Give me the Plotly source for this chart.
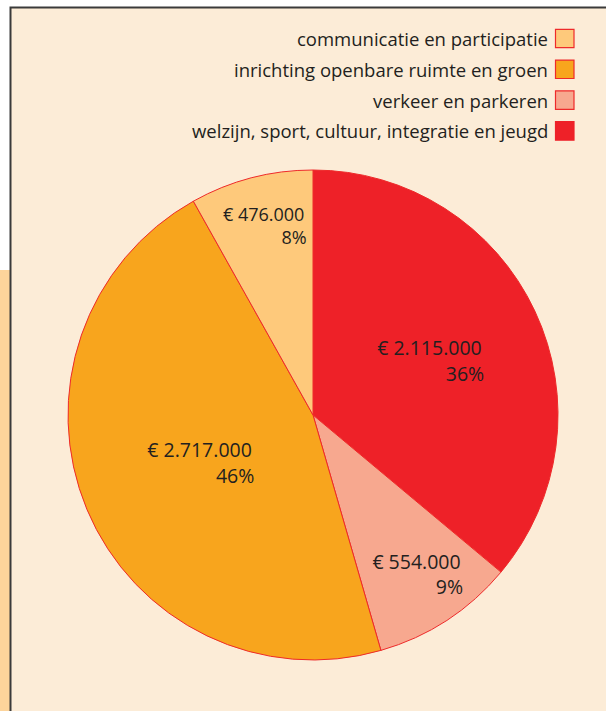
import plotly.graph_objects as go

W, H = 606, 711

# Data (clockwise from 12 o'clock)
categories = [
    "welzijn, sport, cultuur, integratie en jeugd",
    "verkeer en parkeren",
    "inrichting openbare ruimte en groen",
    "communicatie en participatie",
]
amounts = [2115000, 554000, 2717000, 476000]
colors = ["#EE2128", "#F7A88F", "#F8A51D", "#FEC97B"]

FONT = "Open Sans"
TEXT_COLOR = "#231F20"

total = sum(amounts)
labels_text = []
for v in amounts:
    amt = "€ " + f"{v:,}".replace(",", ".")
    pct = f"{round(v / total * 100)}%"
    # invisible prefix so the percentage line is right-aligned under the amount
    prefix = amt[: len(amt) - len(pct)]
    labels_text.append(
        f"{amt}<br><span style='color:rgba(0,0,0,0)'>{prefix}</span>{pct}"
    )

fig = go.Figure()

fig.add_trace(go.Pie(
    labels=categories,
    values=amounts,
    text=labels_text,
    sort=False,
    direction="clockwise",
    rotation=0,
    marker=dict(colors=colors, line=dict(color="#EE2A2A", width=1)),
    texttemplate="%{text}",
    textposition="inside",
    insidetextorientation="horizontal",
    textfont=dict(family=FONT, size=19.5, color=TEXT_COLOR),
    hoverinfo="label+value+percent",
    showlegend=False,
    domain=dict(x=[68 / W, 558 / W], y=[1 - 660 / H, 1 - 170 / H]),
))

def px(x):
    return x / W

def py(y):
    return 1 - y / H

shapes = []
# left strip
shapes.append(dict(type="rect", xref="paper", yref="paper",
                   x0=px(0), x1=px(10), y0=py(711), y1=py(270),
                   fillcolor="#FDD49B", line=dict(width=0), layer="below"))
# main box
shapes.append(dict(type="rect", xref="paper", yref="paper",
                   x0=px(10.5), x1=px(620), y0=py(730), y1=py(7.5),
                   fillcolor="#FCECD7", line=dict(color="#3A3A3A", width=2), layer="below"))

# Legend (reversed order, swatch to the right of text)
legend_order = list(range(len(categories)))[::-1]
annotations = []
for i, idx in enumerate(legend_order):
    yc = 38.5 + i * 30.8
    annotations.append(dict(
        xref="paper", yref="paper", x=px(550), y=py(yc),
        xanchor="right", yanchor="middle", showarrow=False,
        text=categories[idx],
        font=dict(family=FONT, size=18.5, color=TEXT_COLOR),
    ))
    last = idx == 0
    shapes.append(dict(type="rect", xref="paper", yref="paper",
                       x0=px(555.5), x1=px(574), y0=py(yc + 9.2), y1=py(yc - 9.2),
                       fillcolor=colors[idx],
                       line=dict(color=colors[idx] if last else "#EE2A2A", width=1.2)))

fig.update_layout(
    width=W, height=H,
    margin=dict(l=0, r=0, t=0, b=0),
    paper_bgcolor="white",
    plot_bgcolor="white",
    shapes=shapes,
    annotations=annotations,
    font=dict(family=FONT),
)

fig.write_html(
    "out.html",
    config={"displayModeBar": False},
    post_script="document.body.style.margin='0';document.body.style.overflow='hidden';",
)
